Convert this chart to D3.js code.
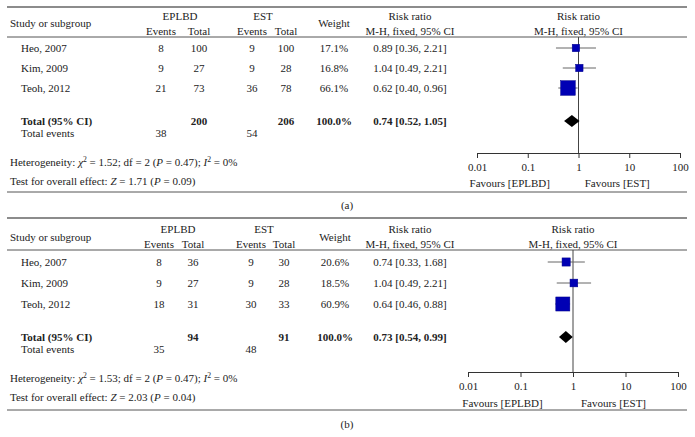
<!DOCTYPE html>
<html><head><meta charset="utf-8">
<script src="https://cdn.jsdelivr.net/npm/d3@7/dist/d3.min.js"></script>
<style>
html,body{margin:0;padding:0;background:#fff;}
svg text{font-family:"Liberation Serif","DejaVu Serif",serif;fill:#222;}
</style></head>
<body>
<svg id="chart" width="695" height="437"></svg>
<script>
// ---------- DATA ----------
const studies = ["Heo, 2007", "Kim, 2009", "Teoh, 2012"];
const tickValues = [0.01, 0.1, 1, 10, 100];
const tickLabels = ["0.01", "0.1", "1", "10", "100"];

// Panel (a)
const aEplbdEvents = [8, 9, 21];
const aEplbdTotal = [100, 27, 73];
const aEstEvents = [9, 9, 36];
const aEstTotal = [100, 28, 78];
const aWeight = [17.1, 16.8, 66.1];
const aRR = [0.89, 1.04, 0.62];
const aLow = [0.36, 0.49, 0.40];
const aHigh = [2.21, 2.21, 0.96];
const aPooled = [0.74, 0.52, 1.05];          // RR, low, high
const aTotals = [200, 206];                   // EPLBD, EST
const aTotalEvents = [38, 54];
const aHet = ["1.52", "2", "0.47", "0"];      // chi2, df, P, I2
const aZ = ["1.71", "0.09"];                  // Z, P

// Panel (b)
const bEplbdEvents = [8, 9, 18];
const bEplbdTotal = [36, 27, 31];
const bEstEvents = [9, 9, 30];
const bEstTotal = [30, 28, 33];
const bWeight = [20.6, 18.5, 60.9];
const bRR = [0.74, 1.04, 0.64];
const bLow = [0.33, 0.49, 0.46];
const bHigh = [1.68, 2.21, 0.88];
const bPooled = [0.73, 0.54, 0.99];
const bTotals = [94, 91];
const bTotalEvents = [35, 48];
const bHet = ["1.53", "2", "0.47", "0"];
const bZ = ["2.03", "0.04"];

// ---------- LAYOUT ----------
const svg = d3.select("#chart");
const fs = 11;
const fmt2 = d3.format(".2f");
const sizeScale = d3.scaleSqrt().domain([0, 100]).range([0, 18]);

function drawPanel(cfg, d) {
  const g = svg.append("g");
  const X = cfg.x, Y = cfg.y;
  const text = (x, y, s, anchor, bold) => g.append("text")
      .attr("x", x).attr("y", y).attr("dy", "0.35em")
      .attr("text-anchor", anchor || "middle")
      .attr("font-size", fs).attr("font-weight", bold ? "bold" : null)
      .text(s);
  const hline = (y, w, c) => g.append("line")
      .attr("x1", X.left).attr("x2", X.right).attr("y1", y).attr("y2", y)
      .attr("stroke", c || "#555").attr("stroke-width", w || 1);

  // rules
  hline(Y.top, 1.5, "#666");
  hline(Y.hdrLine, 1, "#555");
  hline(Y.bottom, 1, "#555");

  // headers
  text(X.study, Y.h2, "Study or subgroup", "start");
  text(X.hdrA, Y.h1, "EPLBD");
  text(X.evA, Y.h3, "Events");
  text(X.totA, Y.h3, "Total");
  text(X.hdrB, Y.h1, "EST");
  text(X.evB, Y.h3, "Events");
  text(X.totB, Y.h3, "Total");
  text(X.weight, Y.h2, "Weight");
  text(X.rr, Y.h1, "Risk ratio");
  text(X.rr, Y.h3, "M-H, fixed, 95% CI");
  const xs = d3.scaleLog().domain([tickValues[0], tickValues[tickValues.length - 1]]).range(X.plot);
  const plotMid = (X.plot[0] + X.plot[1]) / 2;
  text(plotMid, Y.h1, "Risk ratio");
  text(plotMid, Y.h3, "M-H, fixed, 95% CI");

  // study rows
  const yRow = d3.scalePoint().domain(studies).range([Y.rows[0], Y.rows[1]]);
  studies.forEach((s, i) => {
    const y = yRow(s);
    text(X.row, y, s, "start");
    text(X.evA, y, d.eplbdEvents[i]);
    text(X.totA, y, d.eplbdTotal[i]);
    text(X.evB, y, d.estEvents[i]);
    text(X.totB, y, d.estTotal[i]);
    text(X.weight, y, d.weight[i].toFixed(1) + "%");
    text(X.rr, y, `${fmt2(d.rr[i])} [${fmt2(d.low[i])}, ${fmt2(d.high[i])}]`);
  });

  // totals
  text(X.row, Y.total, "Total (95% CI)", "start", true);
  text(X.totA, Y.total, d.totals[0], "middle", true);
  text(X.totB, Y.total, d.totals[1], "middle", true);
  text(X.weight, Y.total, "100.0%", "middle", true);
  text(X.rr, Y.total, `${fmt2(d.pooled[0])} [${fmt2(d.pooled[1])}, ${fmt2(d.pooled[2])}]`, "middle", true);
  text(X.row, Y.events, "Total events", "start");
  text(X.evA, Y.events, d.totalEvents[0]);
  text(X.evB, Y.events, d.totalEvents[1]);

  // heterogeneity
  const het = g.append("text").attr("x", X.study).attr("y", Y.het).attr("dy", "0.35em")
      .attr("font-size", fs);
  het.append("tspan").text("Heterogeneity: ");
  het.append("tspan").attr("font-style", "italic").text("χ");
  het.append("tspan").attr("font-size", fs * 0.7).attr("dy", "-0.45em").text("2");
  het.append("tspan").attr("dy", "0.32em").text(` = ${d.het[0]}; df = ${d.het[1]} (`);
  het.append("tspan").attr("font-style", "italic").text("P");
  het.append("tspan").text(` = ${d.het[2]}); `);
  het.append("tspan").attr("font-style", "italic").text("I");
  het.append("tspan").attr("font-size", fs * 0.7).attr("dy", "-0.45em").text("2");
  het.append("tspan").attr("dy", "0.32em").text(` = ${d.het[3]}%`);

  const ov = g.append("text").attr("x", X.study).attr("y", Y.test).attr("dy", "0.35em")
      .attr("font-size", fs);
  ov.append("tspan").text("Test for overall effect: ");
  ov.append("tspan").attr("font-style", "italic").text("Z");
  ov.append("tspan").text(` = ${d.z[0]} (`);
  ov.append("tspan").attr("font-style", "italic").text("P");
  ov.append("tspan").text(` = ${d.z[1]})`);

  // forest plot
  g.append("line").attr("x1", xs(1)).attr("x2", xs(1))
      .attr("y1", Y.hdrLine).attr("y2", Y.axis)
      .attr("stroke", "#444").attr("stroke-width", 1);

  studies.forEach((s, i) => {
    const y = yRow(s);
    g.append("line").attr("x1", xs(d.low[i])).attr("x2", xs(d.high[i]))
        .attr("y1", y).attr("y2", y).attr("stroke", "#666").attr("stroke-width", 1);
    const sz = sizeScale(d.weight[i]);
    g.append("rect").attr("x", xs(d.rr[i]) - sz / 2).attr("y", y - sz / 2)
        .attr("width", sz).attr("height", sz)
        .attr("fill", "#0000b4").attr("stroke", "#00008a").attr("stroke-width", 0.5);
  });

  const yt = Y.total, hh = 6;
  g.append("path")
      .attr("d", `M${xs(d.pooled[1])},${yt} L${xs(d.pooled[0])},${yt - hh} L${xs(d.pooled[2])},${yt} L${xs(d.pooled[0])},${yt + hh} Z`)
      .attr("fill", "#000");

  const axis = d3.axisBottom(xs).tickValues(tickValues)
      .tickFormat((v, i) => tickLabels[i]).tickSizeInner(5).tickSizeOuter(0).tickPadding(5);
  const ag = g.append("g").attr("transform", `translate(0,${Y.axis})`).call(axis);
  ag.select(".domain").attr("stroke", "#333");
  ag.selectAll(".tick line").attr("stroke", "#333");
  ag.selectAll(".tick text").attr("font-size", fs)
      .attr("font-family", '"Liberation Serif","DejaVu Serif",serif').attr("fill", "#222");

  text(xs(0.1) - 18, Y.fav, "Favours [EPLBD]");
  text(xs(10) - 12, Y.fav, "Favours [EST]");

  // caption
  text(347, Y.caption, cfg.caption);
}

drawPanel({
  caption: "(a)",
  x: {left: 7, right: 687, study: 10, row: 21, hdrA: 180, evA: 161, totA: 199, hdrB: 263, evB: 252, totB: 286,
      weight: 334, rr: 410, plot: [477, 680]},
  y: {top: 7, h1: 16, h2: 23.5, h3: 31, hdrLine: 37, rows: [48, 88], total: 121, events: 133,
      het: 162, test: 181, axis: 153, fav: 183, bottom: 192, caption: 205}
}, {eplbdEvents: aEplbdEvents, eplbdTotal: aEplbdTotal, estEvents: aEstEvents, estTotal: aEstTotal,
    weight: aWeight, rr: aRR, low: aLow, high: aHigh, pooled: aPooled, totals: aTotals,
    totalEvents: aTotalEvents, het: aHet, z: aZ});

drawPanel({
  caption: "(b)",
  x: {left: 7, right: 687, study: 10, row: 21, hdrA: 178, evA: 159, totA: 193, hdrB: 264, evB: 251, totB: 284,
      weight: 335, rr: 410, plot: [468, 678]},
  y: {top: 218, h1: 229, h2: 237, h3: 244, hdrLine: 250, rows: [262, 304], total: 337, events: 349,
      het: 378, test: 397, axis: 372, fav: 403, bottom: 410, caption: 424}
}, {eplbdEvents: bEplbdEvents, eplbdTotal: bEplbdTotal, estEvents: bEstEvents, estTotal: bEstTotal,
    weight: bWeight, rr: bRR, low: bLow, high: bHigh, pooled: bPooled, totals: bTotals,
    totalEvents: bTotalEvents, het: bHet, z: bZ});
</script>
</body></html>
